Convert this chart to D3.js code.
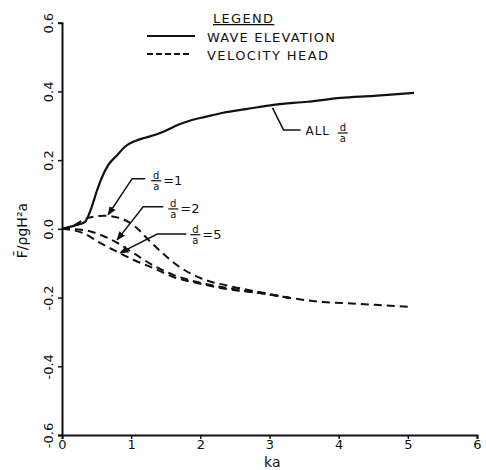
<!DOCTYPE html>
<html>
<head>
<meta charset="utf-8">
<script src="https://cdn.jsdelivr.net/npm/d3@7"></script>
<style>
  body { margin: 0; background: #fff; }
  text { font-family: "DejaVu Sans", sans-serif; fill: #111; }
</style>
</head>
<body>
<div id="chart"></div>
<script>
// wave elevation (solid), same for all d/a
const waveKa = [0, 0.19, 0.33, 0.43, 0.51, 0.58, 0.67, 0.80, 0.91, 1.06, 1.20, 1.35, 1.49, 1.68, 1.88, 2.07, 2.33, 2.68, 3.06, 3.55, 4.03, 4.51, 5.09];
const waveF = [0, 0.01, 0.02, 0.064, 0.114, 0.151, 0.186, 0.215, 0.239, 0.256, 0.265, 0.274, 0.285, 0.303, 0.317, 0.326, 0.338, 0.349, 0.361, 0.370, 0.381, 0.387, 0.396];

// velocity head (dashed)
const vh1Ka = [0, 0.09, 0.38, 0.62, 0.87, 1.06, 1.25, 1.45, 1.68, 2.0, 2.48, 2.83, 3.30, 3.78, 4.28, 4.75, 5.04];
const vh1F = [0, 0.003, 0.032, 0.038, 0.029, 0.006, -0.032, -0.070, -0.108, -0.143, -0.169, -0.183, -0.201, -0.213, -0.218, -0.224, -0.227];
const vh2Ka = [0, 0.30, 0.55, 0.80, 1.03, 1.28, 1.61, 2.0, 2.48, 2.83, 3.30];
const vh2F = [0, -0.003, -0.017, -0.041, -0.070, -0.102, -0.134, -0.157, -0.175, -0.186, -0.201];
const vh5Ka = [0, 0.30, 0.55, 0.80, 1.03, 1.32, 1.61, 2.0, 2.48, 2.83, 3.30];
const vh5F = [0, -0.012, -0.041, -0.067, -0.090, -0.114, -0.140, -0.160, -0.178, -0.186, -0.201];

const xTicks = [0, 1, 2, 3, 4, 5, 6];
const yTicks = [-0.6, -0.4, -0.2, 0.0, 0.2, 0.4, 0.6];

// leaders: [tip, elbow, end] in (ka, F), label centre in (ka, F)
const leaderNames = ["1", "2", "5"];
const leaderPts = [
  [[0.667, 0.041], [1.014, 0.146], [1.203, 0.146]],
  [[0.797, -0.032], [1.174, 0.064], [1.464, 0.064]],
  [[0.841, -0.070], [1.377, -0.015], [1.797, -0.015]]
];
const leaderLabel = [[1.362, 0.140], [1.609, 0.058], [1.928, -0.017]];
const allLeader = [[3.043, 0.352], [3.203, 0.288], [3.449, 0.288]];

const W = 486, H = 470;
const margin = { top: 22.7, right: 9, bottom: 35, left: 62 };

const svg = d3.select("#chart").append("svg")
  .attr("width", W).attr("height", H);

const x = d3.scaleLinear().domain([0, 6]).range([margin.left, W - margin.right]);
const y = d3.scaleLinear().domain([-0.6, 0.6]).range([H - margin.bottom, margin.top]);

svg.append("defs").append("marker")
  .attr("id", "arr")
  .attr("viewBox", "0 0 10 10")
  .attr("refX", 9).attr("refY", 5)
  .attr("markerWidth", 6).attr("markerHeight", 6)
  .attr("orient", "auto")
  .append("path").attr("d", "M0,1 L10,5 L0,9 Z").attr("fill", "#111");

// axes
const xAxis = svg.append("g")
  .attr("transform", `translate(0,${y(-0.6)})`)
  .call(d3.axisBottom(x).tickValues(xTicks).tickSize(4).tickFormat(d3.format("d")));
xAxis.select(".domain").attr("stroke", "#111").attr("stroke-width", 2);
xAxis.selectAll(".tick line").attr("stroke", "#111").attr("stroke-width", 1.5);
xAxis.selectAll("text").attr("font-size", 13).attr("y", 5).attr("dy", "0.71em");

const yAxis = svg.append("g")
  .attr("transform", `translate(${x(0)},0)`)
  .call(d3.axisLeft(y).tickValues(yTicks).tickSize(4).tickFormat(d => d3.format(".1f")(d).replace("−", "-")));
yAxis.select(".domain").attr("stroke", "#111").attr("stroke-width", 2);
yAxis.selectAll(".tick line").attr("stroke", "#111").attr("stroke-width", 1.5);
yAxis.selectAll("text")
  .attr("font-size", 13)
  .attr("text-anchor", "middle")
  .attr("x", 0).attr("dy", 0)
  .attr("transform", "translate(-9,0) rotate(-90)");

svg.selectAll(".domain, .tick text").attr("font-family", "DejaVu Sans");

// axis titles
svg.append("text")
  .attr("x", x(3.04)).attr("y", 467)
  .attr("text-anchor", "middle").attr("font-size", 14)
  .text("ka");

svg.append("text")
  .attr("transform", `translate(27,${y(-0.005)}) rotate(-90)`)
  .attr("text-anchor", "middle").attr("font-size", 14)
  .text("F\u0304/\u03C1gH\u00B2a");

// curves
const line = d3.line().x(d => x(d[0])).y(d => y(d[1])).curve(d3.curveMonotoneX);
const zip = (a, b) => a.map((v, i) => [v, b[i]]);

svg.append("path").datum(zip(waveKa, waveF))
  .attr("fill", "none").attr("stroke", "#111").attr("stroke-width", 2.2)
  .attr("d", line);

[[vh1Ka, vh1F], [vh2Ka, vh2F], [vh5Ka, vh5F]].forEach(([k, f]) => {
  svg.append("path").datum(zip(k, f))
    .attr("fill", "none").attr("stroke", "#111").attr("stroke-width", 2)
    .attr("stroke-dasharray", "8,5")
    .attr("d", line);
});

// leader lines
const plain = d3.line().x(d => x(d[0])).y(d => y(d[1]));

function fraction(cx, cy, after) {
  const g = svg.append("g");
  g.append("text").attr("x", cx).attr("y", cy - 2).attr("text-anchor", "middle")
    .attr("font-size", 10).text("d");
  g.append("line").attr("x1", cx - 5).attr("x2", cx + 5).attr("y1", cy).attr("y2", cy)
    .attr("stroke", "#111").attr("stroke-width", 1.2);
  g.append("text").attr("x", cx).attr("y", cy + 9).attr("text-anchor", "middle")
    .attr("font-size", 10).text("a");
  if (after) {
    g.append("text").attr("x", cx + 7).attr("y", cy + 4).attr("font-size", 13).text(after);
  }
}

leaderPts.forEach((pts, i) => {
  svg.append("path").datum(pts.slice().reverse())
    .attr("fill", "none").attr("stroke", "#111").attr("stroke-width", 1.5)
    .attr("marker-end", "url(#arr)")
    .attr("d", plain);
  fraction(x(leaderLabel[i][0]), y(leaderLabel[i][1]), "=" + leaderNames[i]);
});

svg.append("path").datum(allLeader)
  .attr("fill", "none").attr("stroke", "#111").attr("stroke-width", 1.5)
  .attr("d", plain);
svg.append("text").attr("x", x(3.52)).attr("y", y(0.288) + 5)
  .attr("font-size", 12).attr("letter-spacing", 1).text("ALL");
fraction(x(4.06), y(0.279), null);

// legend
const legend = svg.append("g");
legend.append("text").attr("x", 213).attr("y", 23).attr("font-size", 13)
  .attr("letter-spacing", 1.3).attr("text-decoration", "underline").text("LEGEND");
legend.append("line").attr("x1", 147).attr("x2", 195).attr("y1", 36).attr("y2", 36)
  .attr("stroke", "#111").attr("stroke-width", 2);
legend.append("text").attr("x", 207).attr("y", 42).attr("font-size", 13)
  .attr("textLength", 128).text("WAVE ELEVATION");
legend.append("line").attr("x1", 147).attr("x2", 191).attr("y1", 54).attr("y2", 54)
  .attr("stroke", "#111").attr("stroke-width", 2).attr("stroke-dasharray", "6,3");
legend.append("text").attr("x", 207).attr("y", 60).attr("font-size", 13)
  .attr("textLength", 121).text("VELOCITY HEAD");
</script>
</body>
</html>
